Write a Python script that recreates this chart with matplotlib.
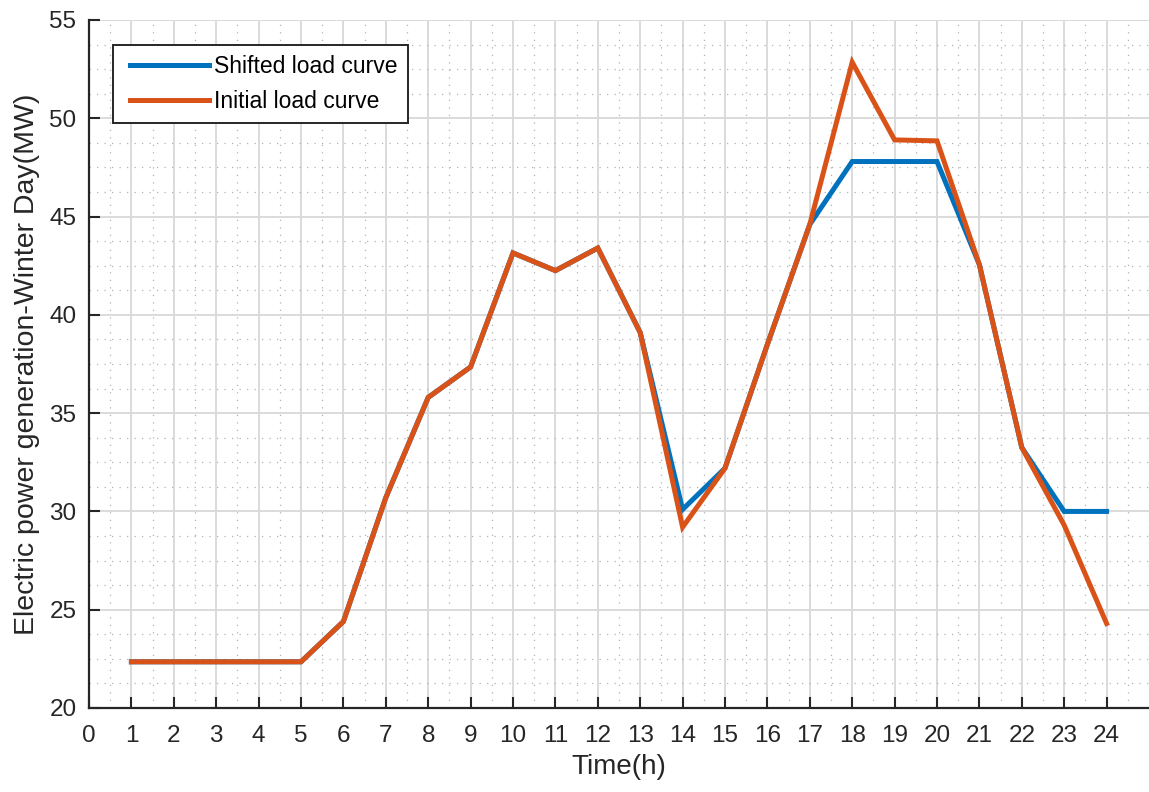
import matplotlib
matplotlib.use("Agg")
import matplotlib.pyplot as plt
from matplotlib.ticker import MultipleLocator
from matplotlib.legend_handler import HandlerLine2D
from matplotlib.lines import Line2D

plt.rcParams['font.family'] = ['Liberation Sans', 'DejaVu Sans']

hours = list(range(1, 25))
initial_load = [22.35, 22.35, 22.35, 22.35, 22.35, 24.4, 30.7, 35.8, 37.35, 43.15,
                42.25, 43.4, 39.1, 29.2, 32.2, 38.5, 44.6, 52.85, 48.9, 48.85,
                42.55, 33.25, 29.3, 24.3]
shifted_load = [22.35, 22.35, 22.35, 22.35, 22.35, 24.4, 30.7, 35.8, 37.35, 43.15,
                42.25, 43.4, 39.1, 30.1, 32.2, 38.5, 44.6, 47.8, 47.8, 47.8,
                42.55, 33.25, 30.0, 30.0]
x_ticks = list(range(0, 25))
y_ticks = [20, 25, 30, 35, 40, 45, 50, 55]

text_color = '#262626'
fig = plt.figure(figsize=(11.49, 7.92), dpi=100)
ax = fig.add_axes([89 / 1149, 84 / 792, 1 - 89 / 1149, (708 - 20) / 792])

ax.plot(hours, shifted_load, color='#0072BD', lw=3.6, label='Shifted load curve',
        solid_joinstyle='miter', zorder=3)
ax.plot(hours, initial_load, color='#D95319', lw=3.6, label='Initial load curve',
        solid_joinstyle='miter', zorder=4)

ax.set_xlim(0, 25)
ax.set_ylim(20, 55)
ax.set_xticks(x_ticks)
ax.set_yticks(y_ticks)
ax.xaxis.set_minor_locator(MultipleLocator(0.5))
ax.yaxis.set_minor_locator(MultipleLocator(1.25))

ax.grid(True, which='major', color='#dadada', lw=1.4)
ax.grid(True, which='minor', color='#b3b3b3', lw=0.9, linestyle=(0, (1, 5)))
ax.set_axisbelow(True)

for side in ('top', 'right'):
    ax.spines[side].set_visible(False)
for side in ('left', 'bottom'):
    ax.spines[side].set_color(text_color)
    ax.spines[side].set_linewidth(1.6)

ax.tick_params(which='major', direction='in', length=8, width=1.5,
               colors=text_color, labelsize=17.5)
ax.tick_params(axis='x', which='major', pad=12)
ax.tick_params(axis='y', which='major', pad=9)
ax.tick_params(which='minor', length=0)

ax.set_xlabel('Time(h)', fontsize=20, color=text_color, labelpad=5)
ax.set_ylabel('Electric power generation-Winter Day(MW)', fontsize=20.5,
              color=text_color, labelpad=7)

leg = ax.legend(loc='upper left', bbox_to_anchor=(24 / 1060, (708 - 45) / 688),
                fontsize=16.5, frameon=True, fancybox=False, framealpha=1,
                edgecolor=text_color, handlelength=3.73, handletextpad=0.22,
                borderpad=0.45, labelspacing=0.5, borderaxespad=0,
                handler_map={Line2D: HandlerLine2D(xpad=0.3)})
leg.get_frame().set_linewidth(1.4)

fig.savefig('out.png', dpi=100)
